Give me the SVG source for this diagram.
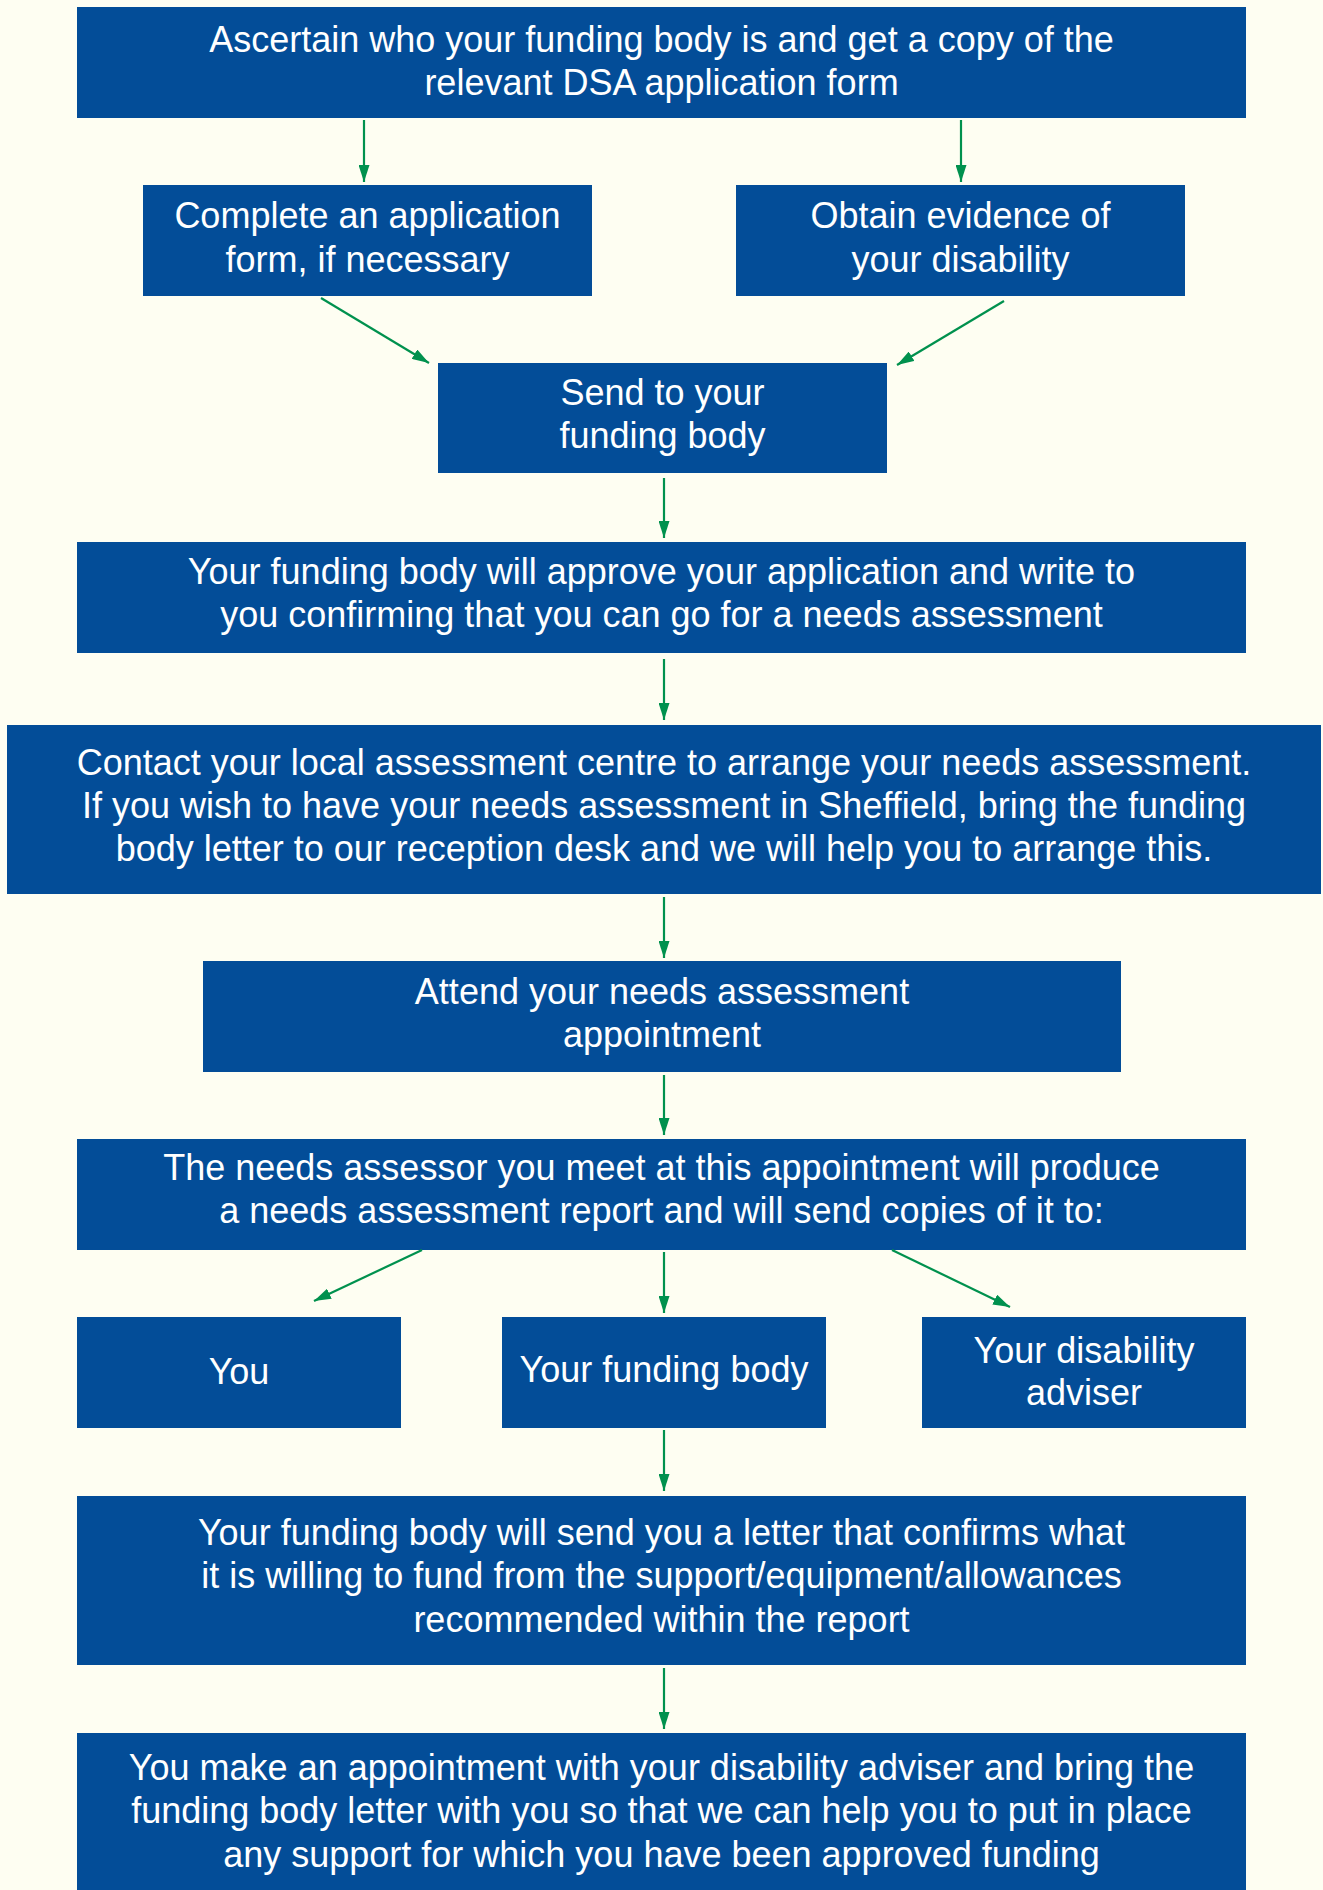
<svg xmlns="http://www.w3.org/2000/svg" width="1323" height="1890" viewBox="0 0 1323 1890">
<style>
.box{fill:#034D98}
.t{font-family:"Liberation Sans",Arial,sans-serif;font-size:36px;fill:#ffffff;text-anchor:middle}
.c{stroke:#00914E;stroke-width:2.2;fill:none;marker-end:url(#ah)}
</style>
<defs>
<marker id="ah" markerUnits="userSpaceOnUse" markerWidth="17" markerHeight="11" refX="17" refY="5.5" orient="auto">
<path d="M0,0 L17,5.5 L0,11 z" fill="#00914E"/>
</marker>
</defs>
<rect width="1323" height="1890" fill="#FEFEF2"/>
<g id="n1"><rect class="box" x="77" y="7" width="1169" height="111"/>
<text class="t" x="661.5" y="52">Ascertain who your funding body is and get a copy of the</text>
<text class="t" x="661.5" y="95">relevant DSA application form</text></g>
<g id="n2"><rect class="box" x="143" y="185" width="449" height="111"/>
<text class="t" x="367.5" y="228">Complete an application</text>
<text class="t" x="367.5" y="272">form, if necessary</text></g>
<g id="n3"><rect class="box" x="736" y="185" width="449" height="111"/>
<text class="t" x="960.5" y="228">Obtain evidence of</text>
<text class="t" x="960.5" y="272">your disability</text></g>
<g id="n4"><rect class="box" x="438" y="363" width="449" height="110"/>
<text class="t" x="662.5" y="405">Send to your</text>
<text class="t" x="662.5" y="448">funding body</text></g>
<g id="n5"><rect class="box" x="77" y="542" width="1169" height="111"/>
<text class="t" x="661.5" y="584">Your funding body will approve your application and write to</text>
<text class="t" x="661.5" y="627">you confirming that you can go for a needs assessment</text></g>
<g id="n6"><rect class="box" x="7" y="725" width="1314" height="169"/>
<text class="t" x="664" y="775">Contact your local assessment centre to arrange your needs assessment.</text>
<text class="t" x="664" y="818">If you wish to have your needs assessment in Sheffield, bring the funding</text>
<text class="t" x="664" y="861">body letter to our reception desk and we will help you to arrange this.</text></g>
<g id="n7"><rect class="box" x="203" y="961" width="918" height="111"/>
<text class="t" x="662" y="1004">Attend your needs assessment</text>
<text class="t" x="662" y="1047">appointment</text></g>
<g id="n8"><rect class="box" x="77" y="1139" width="1169" height="111"/>
<text class="t" x="661.5" y="1180">The needs assessor you meet at this appointment will produce</text>
<text class="t" x="661.5" y="1223">a needs assessment report and will send copies of it to:</text></g>
<g id="n9"><rect class="box" x="77" y="1317" width="324" height="111"/>
<text class="t" x="239" y="1384">You</text></g>
<g id="n10"><rect class="box" x="502" y="1317" width="324" height="111"/>
<text class="t" x="664" y="1382">Your funding body</text></g>
<g id="n11"><rect class="box" x="922" y="1317" width="324" height="111"/>
<text class="t" x="1084" y="1363">Your disability</text>
<text class="t" x="1084" y="1405">adviser</text></g>
<g id="n12"><rect class="box" x="77" y="1496" width="1169" height="169"/>
<text class="t" x="661.5" y="1545">Your funding body will send you a letter that confirms what</text>
<text class="t" x="661.5" y="1588">it is willing to fund from the support/equipment/allowances</text>
<text class="t" x="661.5" y="1632">recommended within the report</text></g>
<g id="n13"><rect class="box" x="77" y="1733" width="1169" height="157"/>
<text class="t" x="661.5" y="1780">You make an appointment with your disability adviser and bring the</text>
<text class="t" x="661.5" y="1823">funding body letter with you so that we can help you to put in place</text>
<text class="t" x="661.5" y="1867">any support for which you have been approved funding</text></g>
<g id="connectors">
<line class="c" x1="364" y1="120" x2="364" y2="182"/>
<line class="c" x1="961" y1="120" x2="961" y2="182"/>
<line class="c" x1="321" y1="298" x2="429" y2="363"/>
<line class="c" x1="1004" y1="301" x2="897" y2="365"/>
<line class="c" x1="664" y1="478" x2="664" y2="538"/>
<line class="c" x1="664" y1="659" x2="664" y2="720"/>
<line class="c" x1="664" y1="897" x2="664" y2="958"/>
<line class="c" x1="664" y1="1075" x2="664" y2="1135"/>
<line class="c" x1="422" y1="1250" x2="314" y2="1301"/>
<line class="c" x1="664" y1="1252" x2="664" y2="1313"/>
<line class="c" x1="892" y1="1250" x2="1010" y2="1307"/>
<line class="c" x1="664" y1="1430" x2="664" y2="1491"/>
<line class="c" x1="664" y1="1668" x2="664" y2="1729"/>
</g>
</svg>
